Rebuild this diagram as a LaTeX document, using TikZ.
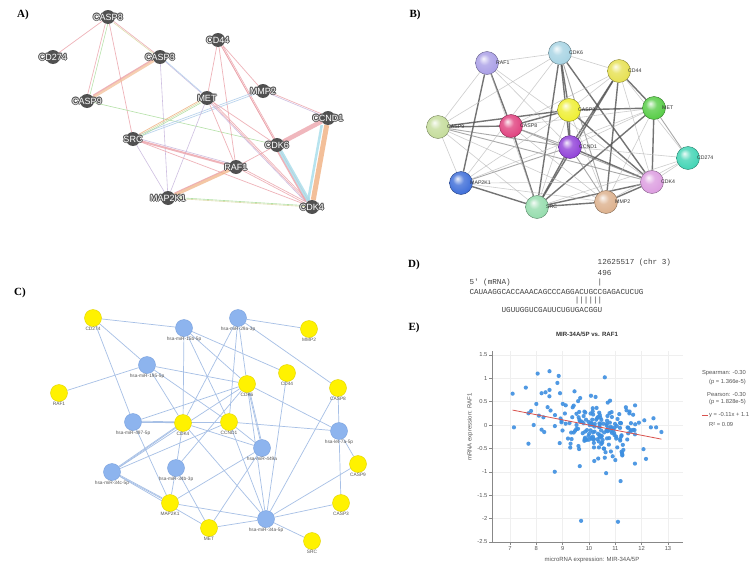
\documentclass[tikz,border=0pt]{standalone}
\usepackage{fontspec}
\setmainfont{Liberation Sans}
\setmonofont{Liberation Mono}
\newfontfamily\panelfont{Liberation Serif}
\pgfdeclarelayer{back}
\pgfdeclarelayer{bg}
\pgfsetlayers{back,bg,main}
\makeatletter
\pgfdeclareradialshading[tikz@ball]{softball}{\pgfqpoint{-8bp}{10bp}}{color(0bp)=(tikz@ball!10!white); color(12bp)=(tikz@ball!80!white); color(30bp)=(tikz@ball); color(44bp)=(tikz@ball!85!black); color(50bp)=(tikz@ball!70!black)}
\makeatother
\definecolor{anodec}{HTML}{505050}
\definecolor{halo}{HTML}{555555}
\definecolor{cpink}{HTML}{EBA0A8}
\definecolor{corange}{HTML}{F0B080}
\definecolor{ccyan}{HTML}{A6DCEA}
\definecolor{cgreen}{HTML}{A8DC98}
\definecolor{cpurple}{HTML}{C6B4DC}
\definecolor{colive}{HTML}{D8D8A0}
\definecolor{cblueln}{HTML}{B4D0EC}
\definecolor{bRAF1c}{HTML}{A99EE6}
\definecolor{bCDK6c}{HTML}{A6D3E3}
\definecolor{bCD44c}{HTML}{E6E050}
\definecolor{bCASP3c}{HTML}{EEEE30}
\definecolor{bMETc}{HTML}{55CC44}
\definecolor{bCASP9c}{HTML}{C4DC9A}
\definecolor{bCASP8c}{HTML}{E0407E}
\definecolor{bCCND1c}{HTML}{9040D8}
\definecolor{bCD274c}{HTML}{40D4B4}
\definecolor{bMAP2K1c}{HTML}{3C6CD8}
\definecolor{bCDK4c}{HTML}{DC9CE0}
\definecolor{bMMP2c}{HTML}{DCB08C}
\definecolor{bSRCc}{HTML}{94DCAC}
\definecolor{cyel}{HTML}{FFF200}
\definecolor{cyelb}{HTML}{E2D400}
\definecolor{cblu}{HTML}{8DB4EE}
\definecolor{cblub}{HTML}{7AA2DE}
\definecolor{cedge}{HTML}{A7C0E6}
\definecolor{labgray}{HTML}{333333}
\definecolor{clabc}{HTML}{555555}
\definecolor{dotc}{HTML}{3D8FE0}
\definecolor{regc}{HTML}{D9534F}
\definecolor{axc}{HTML}{888888}
\definecolor{gridc}{HTML}{EFEFEF}
\definecolor{txtc}{HTML}{555555}
\newcommand\hl[1]{\textcolor{halo}{#1}}
\newcommand\haloed[1]{%
\rlap{\kern-1pt\hl{#1}}%
\rlap{\kern1pt\hl{#1}}%
\rlap{\raise1pt\hbox{\hl{#1}}}%
\rlap{\lower1pt\hbox{\hl{#1}}}%
\rlap{\kern-0.7pt\raise0.7pt\hbox{\hl{#1}}}%
\rlap{\kern0.7pt\raise0.7pt\hbox{\hl{#1}}}%
\rlap{\kern-0.7pt\lower0.7pt\hbox{\hl{#1}}}%
\rlap{\kern0.7pt\lower0.7pt\hbox{\hl{#1}}}%
\textcolor{white}{#1}}
\tikzset{
  plabel/.style={font=\panelfont\bfseries\fontsize{11}{11}\selectfont, inner sep=0pt},
  alabel/.style={font=\fontsize{9}{9}\selectfont, inner sep=0pt},
  anode/.style={circle, fill=anodec, minimum size=14pt, inner sep=0pt, label={[alabel]center:\haloed{#1}}},
  ep/.style={draw=cpink, line width=0.7pt, opacity=0.8},
  eo/.style={draw=corange, line width=0.7pt, opacity=0.85},
  eb/.style={draw=ccyan, line width=0.7pt, opacity=0.85},
  eg/.style={draw=cgreen, line width=0.6pt, opacity=0.85},
  epu/.style={draw=cpurple, line width=0.6pt, opacity=0.85},
  eol/.style={draw=colive, line width=0.6pt, opacity=0.85},
  ebl/.style={draw=cblueln, line width=0.7pt, opacity=0.9},
  bnode/.style={circle, minimum size=23pt, inner sep=0pt, ball color=#1, shading=softball, draw=#1!60!black, line width=0.4pt},
  blabel/.style={font=\fontsize{5.2}{5.2}\selectfont, text=labgray, anchor=west, inner sep=0pt},
  bthick/.style={draw=black!68, line width=1.4pt, opacity=0.8},
  bmid/.style={draw=black!48, line width=0.9pt, opacity=0.7},
  bthin/.style={draw=black!28, line width=0.6pt, opacity=0.7},
  clabel/.style={font=\fontsize{4.8}{5}\selectfont, text=clabc, inner sep=0pt},
  cy/.style={circle, fill=cyel, draw=cyelb, line width=0.4pt, minimum size=17pt, inner sep=0pt, label distance=2.2pt, label={[clabel]below:#1}},
  cb/.style={circle, fill=cblu, draw=cblub, line width=0.4pt, minimum size=17pt, inner sep=0pt, label distance=2.2pt, label={[clabel]below:#1}},
  ce/.style={draw=cedge, line width=0.7pt},
  dtxt/.style={font=\ttfamily\fontsize{7.63}{8}\selectfont, text=black!75, anchor=west, inner sep=0pt},
  etxt/.style={font=\fontsize{5.8}{6}\selectfont, text=txtc, inner sep=0pt},
}
\begin{document}
\begin{tikzpicture}[x=1pt,y=-1pt]
\begin{pgfonlayer}{back}
\path[use as bounding box, fill=white] (0,0) rectangle (756,573);
\end{pgfonlayer}

% ---------------- Panel A ----------------
\node[plabel] (lA) at (23,15) {A)};
\node[anode=CASP8] (aCASP8) at (108,17) {};
\node[anode=CD274] (aCD274) at (53,57) {};
\node[anode=CASP3] (aCASP3) at (160,57) {};
\node[anode=CD44] (aCD44) at (218,40) {};
\node[anode=MMP2] (aMMP2) at (263,91) {};
\node[anode=CASP9] (aCASP9) at (87,101) {};
\node[anode=MET] (aMET) at (207,98) {};
\node[anode=CCND1] (aCCND1) at (328,118) {};
\node[anode=SRC] (aSRC) at (133,139) {};
\node[anode=CDK6] (aCDK6) at (277,145) {};
\node[anode=RAF1] (aRAF1) at (236,167) {};
\node[anode=MAP2K1] (aMAP2K1) at (168,198) {};
\node[anode=CDK4] (aCDK4) at (312,207) {};
\begin{pgfonlayer}{bg}
\draw[ep] (aCASP8)--(aCD274);
\draw[eg, transform canvas={xshift=1.5pt}] (aCASP8)--(aCASP9);
\draw[ep, transform canvas={xshift=-1pt}] (aCASP8)--(aCASP9);
\draw[ep] (aCASP8)--(aCASP3);
\draw[eol, transform canvas={yshift=-1.5pt}] (aCASP8)--(aCASP3);
\draw[ep] (aCASP8)--(aSRC);
\draw[eo, line width=2.6pt, opacity=0.6] (aCASP3)--(aCASP9);
\draw[ep, line width=1.2pt, transform canvas={yshift=2pt}] (aCASP3)--(aCASP9);
\draw[epu] (aCASP3)--(aMET);
\draw[ebl, transform canvas={yshift=1pt}] (aCASP3)--(aMET);
\draw[epu] (aCASP3)--(aMAP2K1);
\draw[eg] (aCASP9)--(aCDK6);
\draw[ep] (aCD44)--(aMET);
\draw[ep] (aCD44)--(aRAF1);
\draw[ep] (aCD44)--(aCDK6);
\draw[ep, transform canvas={xshift=1.5pt}] (aCD44)--(aCDK6);
\draw[ep] (aCD44)--(aCDK4);
\draw[ep] (aCD44)--(aMMP2);
\draw[epu] (aMMP2)--(aCCND1);
\draw[ep, transform canvas={yshift=1.5pt}] (aMMP2)--(aCCND1);
\draw[ebl] (aMMP2)--(aSRC);
\draw[ebl, transform canvas={yshift=2pt}] (aMMP2)--(aSRC);
\draw[eol] (aMET)--(aSRC);
\draw[eo, transform canvas={yshift=1.5pt}] (aMET)--(aSRC);
\draw[eg, transform canvas={yshift=-1.5pt}] (aMET)--(aSRC);
\draw[epu] (aMET)--(aMAP2K1);
\draw[ep] (aMET)--(aRAF1);
\draw[ep] (aMET)--(aCDK4);
\draw[ep, transform canvas={xshift=2pt}] (aMET)--(aCDK4);
\draw[epu, transform canvas={xshift=-1.5pt}] (aMET)--(aCDK4);
\draw[ep] (aMET)--(aCDK6);
\draw[ep, line width=2pt] (aSRC)--(aRAF1);
\draw[epu, transform canvas={yshift=2pt}] (aSRC)--(aRAF1);
\draw[epu] (aSRC)--(aMAP2K1);
\draw[ep] (aSRC)--(aCDK4);
\draw[eo, line width=3.2pt, opacity=0.7] (aRAF1)--(aMAP2K1);
\draw[ep, line width=1pt, transform canvas={yshift=2pt}] (aRAF1)--(aMAP2K1);
\draw[ep] (aRAF1)--(aCDK6);
\draw[ep] (aRAF1)--(aCDK4);
\draw[ep, transform canvas={yshift=2pt}] (aRAF1)--(aCDK4);
\draw[ep, line width=4.5pt, opacity=0.75] (aCDK6)--(aCCND1);
\draw[eb, line width=4pt, opacity=0.8] (aCDK6)--(aCDK4);
\draw[ep, line width=1.5pt, transform canvas={xshift=-3pt}] (aCDK6)--(aCDK4);
\draw[eo, line width=5pt, opacity=0.8] (aCCND1)--(aCDK4);
\draw[eb, line width=2.5pt, opacity=0.8, transform canvas={xshift=-5pt}] (aCCND1)--(aCDK4);
\draw[eol] (aMAP2K1)--(aCDK4);
\draw[eg, transform canvas={yshift=1pt}] (aMAP2K1)--(aCDK4);
\end{pgfonlayer}

% ---------------- Panel B ----------------
\node[plabel] (lB) at (415,15) {B)};
\node[bnode=bRAF1c] (bRAF1) at (487,63) {};
\node[bnode=bCDK6c] (bCDK6) at (560,53) {};
\node[bnode=bCD44c] (bCD44) at (619,71) {};
\node[bnode=bCASP3c] (bCASP3) at (569,110) {};
\node[bnode=bMETc] (bMET) at (654,108) {};
\node[bnode=bCASP9c] (bCASP9) at (438,127) {};
\node[bnode=bCASP8c] (bCASP8) at (511,126) {};
\node[bnode=bCCND1c] (bCCND1) at (570,147) {};
\node[bnode=bCD274c] (bCD274) at (688,158) {};
\node[bnode=bMAP2K1c] (bMAP2K1) at (461,183) {};
\node[bnode=bCDK4c] (bCDK4) at (652,182) {};
\node[bnode=bMMP2c] (bMMP2) at (606,202) {};
\node[bnode=bSRCc] (bSRC) at (537,207) {};
\node[blabel] (tRAF1) at (496,63) {RAF1};
\node[blabel] (tCDK6) at (569,53) {CDK6};
\node[blabel] (tCD44) at (628,71) {CD44};
\node[blabel] (tCASP3) at (578,110) {CASP3};
\node[blabel] (tMET) at (662,108) {MET};
\node[blabel] (tCASP9) at (447,127) {CASP9};
\node[blabel] (tCASP8) at (520,126) {CASP8};
\node[blabel] (tCCND1) at (579,147) {CCND1};
\node[blabel] (tCD274) at (697,158) {CD274};
\node[blabel] (tMAP2K1) at (470,183) {MAP2K1};
\node[blabel] (tCDK4) at (661,182) {CDK4};
\node[blabel] (tMMP2) at (615,202) {MMP2};
\node[blabel] (tSRC) at (546,207) {SRC};
\begin{pgfonlayer}{bg}
\foreach \u/\v in {RAF1/MAP2K1, RAF1/CASP8, CDK6/SRC, CDK6/CCND1, CDK6/CDK4, CDK6/CASP3, CD44/SRC, CD44/MMP2, CD44/MET, CD44/CCND1, CASP3/CASP8, CASP3/CASP9, CASP3/CCND1, CASP3/MET, CASP8/SRC, CASP8/CASP9, MET/SRC, CCND1/SRC, CCND1/CDK4, MAP2K1/SRC, SRC/MMP2, SRC/CDK4, MMP2/CDK4, CASP3/CDK4, MET/CDK4}
  \draw[bthick] (b\u)--(b\v);
\foreach \u/\v in {MET/CD274, CCND1/MMP2, CASP8/CCND1, CDK6/MMP2, CASP9/CCND1, CASP9/CDK4, MAP2K1/CCND1, CASP8/CDK4}
  \draw[bmid] (b\u)--(b\v);
\foreach \u/\v in {RAF1/CASP9, RAF1/CDK6, RAF1/CCND1, RAF1/CDK4, RAF1/SRC, CDK6/CD44, CDK6/MAP2K1, CDK6/CASP9, CD44/CASP8, CD44/CD274, CD44/CDK4, CASP9/MAP2K1, CASP9/SRC, CASP9/MMP2, CASP8/MMP2, MAP2K1/CDK4, MAP2K1/MMP2, MAP2K1/MET, MAP2K1/CASP3, CCND1/CD274, CCND1/MET, SRC/CD274, MMP2/MET, MMP2/CD274, CDK4/CD274, CASP3/SRC, CASP3/MMP2, CD44/CASP3, CASP8/MET}
  \draw[bthin] (b\u)--(b\v);
\end{pgfonlayer}

% ---------------- Panel C ----------------
\node[plabel] (lC) at (20,293) {C)};
\node[cy=CD274] (cCD274) at (93,318) {};
\node[cb=hsa-miR-15b-5p] (c15b) at (184,328) {};
\node[cb=hsa-miR-29a-3p] (c29a) at (238,318) {};
\node[cy=MMP2] (cMMP2) at (309,329) {};
\node[cb=hsa-miR-195-5p] (c195) at (147,365) {};
\node[cy=CD44] (cCD44) at (287,373) {};
\node[cy=CASP8] (cCASP8) at (338,388) {};
\node[cy=RAF1] (cRAF1) at (59,393) {};
\node[cy=CDK6] (cCDK6) at (247,384) {};
\node[cb=hsa-miR-497-5p] (c497) at (133,422) {};
\node[cy=CDK4] (cCDK4) at (183,423) {};
\node[cy=CCND1] (cCCND1) at (229,422) {};
\node[cb=hsa-let-7a-5p] (clet7) at (339,431) {};
\node[cb=hsa-miR-449a] (c449) at (262,448) {};
\node[cb=hsa-miR-34c-5p] (c34c) at (112,472) {};
\node[cb=hsa-miR-34b-3p] (c34b) at (176,468) {};
\node[cy=CASP9] (cCASP9) at (358,464) {};
\node[cy=MAP2K1] (cMAP2K1) at (170,503) {};
\node[cy=CASP3] (cCASP3) at (341,503) {};
\node[cy=MET] (cMET) at (209,528) {};
\node[cb=hsa-miR-34a-5p] (c34a) at (266,519) {};
\node[cy=SRC] (cSRC) at (312,541) {};
\begin{pgfonlayer}{bg}
\foreach \u/\v in {CD274/15b, CD274/195, CD274/497, 15b/CDK4, 15b/CCND1, 15b/CD44, 15b/CDK6, 29a/MMP2, 29a/CASP8, 29a/CDK6, 29a/CCND1, 29a/CDK4, 195/RAF1, 195/CDK6, 195/CDK4, 195/CCND1, 497/CDK4, 497/CCND1, 497/CDK6, 497/MAP2K1, CDK6/let7, CDK6/449, CDK6/34a, CDK6/34c, CDK6/34b, CCND1/let7, CCND1/449, CCND1/34c, CCND1/34a, CDK4/34c, CDK4/34b, CDK4/34a, CDK4/449, CD44/34a, CASP8/let7, CASP8/34a, let7/CASP9, let7/CASP3, 34a/CASP9, 34a/CASP3, 34a/SRC, 34a/MET, 34a/MAP2K1, 449/MET, 449/MAP2K1, 34c/MAP2K1, 34c/MET, 34b/MAP2K1, 34b/MET}
  \draw[ce] (c\u)--(c\v);
\draw[ce, transform canvas={yshift=1pt}] (c497)--(cCDK4);
\draw[ce, transform canvas={xshift=1pt}] (cCDK6)--(c449);
\draw[ce, transform canvas={yshift=1pt}] (c34c)--(cMAP2K1);
\draw[ce, transform canvas={yshift=1pt}] (cCDK4)--(c34c);
\end{pgfonlayer}

% ---------------- Panel D ----------------
\node[plabel] (lD) at (414,265) {D)};
\node[dtxt] (d1) at (597.5,263) {12625517 (chr 3)};
\node[dtxt] (d2) at (597.5,273) {496};
\node[dtxt] (d3) at (469.3,283) {5' (mRNA)};
\node[dtxt] (d3b) at (597.5,283) {|};
\node[dtxt] (d4) at (469.3,292) {CAUAAGGCACCAAACAGCCCAGGACUGCCGAGACUCUG};
\node[dtxt] (d5) at (574.6,301) {||||||};
\node[dtxt] (d6) at (501.4,310) {UGUUGGUCGAUUCUGUGACGGU};

% ---------------- Panel E ----------------
\node[plabel] (lE) at (414,328) {E)};
\node[font=\bfseries\fontsize{6.1}{7}\selectfont, text=black!80, inner sep=0pt] (etitle) at (587,334) {MIR-34A/5P vs. RAF1};
\begin{scope}[shift={(510pt,-425pt)}, x=26.33pt, y=46.75pt]
  \foreach \gx in {0,...,6} \draw[gridc, line width=0.4pt] (\gx,-2.5) -- (\gx,1.58);
  \foreach \gy in {-2,-1.5,...,1.5} \draw[gridc, line width=0.4pt] (-0.68,\gy) -- (6.57,\gy);
  \begin{scope}
  \clip (-0.68,-2.5) rectangle (6.57,1.58);
  \pgfmathsetseed{11}
  \foreach \i in {1,...,175}{
    \pgfmathsetmacro\xx{10.3+0.8*(rand+rand+rand)}
    \pgfmathsetmacro\yy{1.1-0.11*\xx+0.27*(rand+rand+rand)}
    \fill[dotc, opacity=0.9] (\xx-7,\yy) circle[radius=2.1pt];
  }
  \foreach \px/\py in {7.1/0.67, 7.15/-0.05, 7.6/0.8, 7.7/-0.4, 7.7/0.25, 7.8/0.3, 7.9/0.0, 8.05/1.1, 8.0/0.45, 8.1/0.2, 8.2/0.68, 8.35/0.7, 8.5/1.15, 8.5/0.75, 8.85/1.05, 8.8/0.9, 8.7/-1.0, 8.9/0.68, 9.65/-0.88, 9.7/-2.05, 11.1/-2.07, 11.2/-1.2, 10.6/1.02, 10.65/-1.03, 11.0/-0.75, 10.2/-0.77, 9.45/0.72, 10.25/0.6, 10.8/0.52, 12.35/-0.05, 12.55/-0.05, 12.75/-0.15, 12.1/0.1, 11.75/0.42, 11.4/0.38, 10.6/-0.7, 9.6/-0.45, 9.3/-0.4, 8.2/-0.1, 8.3/-0.15}
    \fill[dotc, opacity=0.9] (\px-7,\py) circle[radius=2.1pt];
  \end{scope}
  \coordinate (r1) at (0.1,0.319);
  \coordinate (r2) at (5.75,-0.3025);
  \draw[regc, line width=0.8pt] (r1) -- (r2);
  \draw[axc, line width=0.6pt] (-0.68,1.58) -- (-0.68,-2.5) -- (6.57,-2.5);
  \foreach \ty [count=\k] in {1.5,1,0.5,0,-0.5,-1,-1.5,-2,-2.5}{
    \draw[axc, line width=0.5pt] (-0.68,\ty) -- ++(-3pt,0);
    \node[etxt, anchor=east] (ey\k) at ([xshift=-4.5pt]-0.68,\ty) {\ty};
  }
  \foreach \tx [count=\k] in {7,...,13}{
    \draw[axc, line width=0.5pt] (\tx-7,-2.5) -- ++(0,-3pt);
    \node[etxt, anchor=north] (ex\k) at ([yshift=-4pt]\tx-7,-2.5) {\tx};
  }
\end{scope}
\node[etxt, font=\fontsize{6}{7}\selectfont] (exl) at (592,560) {microRNA expression: MIR-34A/5P};
\node[etxt, font=\fontsize{6}{7}\selectfont, rotate=90] (eyl) at (470,427) {mRNA expression: RAF1};
\node[etxt, anchor=east] (eg1) at (746,373) {Spearman: -0.30};
\node[etxt, anchor=east] (eg2) at (746,382) {(p = 1.366e-5)};
\node[etxt, anchor=east] (eg3) at (746,394) {Pearson: -0.30};
\node[etxt, anchor=east] (eg4) at (746,402) {(p = 1.828e-5)};
\node[etxt, anchor=west] (eg5) at (709,415) {y = -0.11x + 1.1};
\node[etxt, anchor=west] (eg6) at (709,424) {R² = 0.09};
\coordinate (lg1) at (702,415);
\coordinate (lg2) at (707.5,415);
\draw[regc, line width=0.8pt] (lg1) -- (lg2);
\end{tikzpicture}
\end{document}
